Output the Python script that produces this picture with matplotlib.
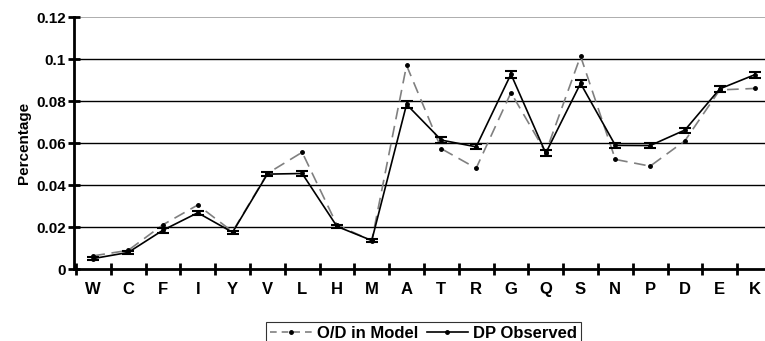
import matplotlib
matplotlib.use('Agg')
import matplotlib.pyplot as plt
from matplotlib.lines import Line2D
from matplotlib.ticker import FixedLocator, FuncFormatter

plt.rcParams['font.family'] = ['Liberation Sans', 'DejaVu Sans']
plt.rcParams['font.weight'] = 'bold'
plt.rcParams['axes.labelweight'] = 'bold'

# Amino acids along the x axis
residues = ['W', 'C', 'F', 'I', 'Y', 'V', 'L', 'H', 'M', 'A',
            'T', 'R', 'G', 'Q', 'S', 'N', 'P', 'D', 'E', 'K']

# Values
od_model = [0.0063, 0.0089, 0.0211, 0.0305, 0.0178, 0.0455, 0.0556, 0.0210, 0.0135, 0.0970,
            0.0573, 0.0480, 0.0840, 0.0555, 0.1014, 0.0522, 0.0490, 0.0611, 0.0853, 0.0860]
dp_observed = [0.0050, 0.0079, 0.0185, 0.0268, 0.0175, 0.0452, 0.0455, 0.0203, 0.0136, 0.0784,
               0.0614, 0.0582, 0.0928, 0.0552, 0.0884, 0.0589, 0.0588, 0.0662, 0.0858, 0.0925]
dp_error = [0.0007, 0.0007, 0.0012, 0.0010, 0.0008, 0.0010, 0.0010, 0.0008, 0.0007, 0.0015,
            0.0013, 0.0012, 0.0017, 0.0015, 0.0016, 0.0012, 0.0012, 0.0012, 0.0013, 0.0013]

x = list(range(len(residues)))

fig = plt.figure(figsize=(7.65, 3.41), dpi=100)
ax = fig.add_axes([0.097, 0.211, 0.903, 0.739])

# grid lines
for v in [0.02, 0.04, 0.06, 0.08, 0.1]:
    ax.axhline(v, color='black', lw=1.0, zorder=1)
ax.axhline(0.12, color='#a0a0a0', lw=1.2, zorder=1)

ax.plot(x, od_model, color='#808080', lw=1.2, dashes=(7, 4),
        marker='o', markersize=2.5, markerfacecolor='black', markeredgecolor='black',
        zorder=2)
ax.errorbar(x, dp_observed, yerr=dp_error, color='black', lw=1.2,
            marker='o', markersize=2.5, capsize=4, capthick=1.5, elinewidth=1.5,
            zorder=3)

ax.set_xlim(-0.55, 19.3)
ax.set_ylim(0, 0.12)

ax.set_yticks([0, 0.02, 0.04, 0.06, 0.08, 0.1, 0.12])
ax.yaxis.set_major_formatter(FuncFormatter(lambda v, p: '%g' % round(v, 3)))
ax.tick_params(axis='y', direction='inout', length=8, width=2, labelsize=11, pad=2)

ax.set_xticks(x)
ax.set_xticklabels(residues, fontsize=12)
ax.tick_params(axis='x', which='major', length=0, pad=9)
ax.xaxis.set_minor_locator(FixedLocator([i + 0.5 for i in range(-1, 20)]))
ax.tick_params(axis='x', which='minor', direction='inout', length=9, width=2)

for side in ['top', 'right']:
    ax.spines[side].set_visible(False)
ax.spines['left'].set_linewidth(2)
ax.spines['bottom'].set_linewidth(2)

ax.set_ylabel('Percentage', fontsize=11, labelpad=4)

handles = [
    Line2D([], [], color='#808080', lw=1.2, dashes=(4, 3), marker='o', markersize=2.5,
           markerfacecolor='black', markeredgecolor='black'),
    Line2D([], [], color='black', lw=1.2, marker='o', markersize=2.5),
]
leg = fig.legend(handles, ['O/D in Model', 'DP Observed'],
                 loc='upper center', bbox_to_anchor=(0.554, 0.056), ncol=2,
                 frameon=True, fancybox=False, edgecolor='black', fontsize=12,
                 handlelength=2.5, columnspacing=0.5, handletextpad=0.3,
                 borderpad=0.25, borderaxespad=0)
leg.get_frame().set_linewidth(0.8)

fig.savefig('out.png', dpi=100)
